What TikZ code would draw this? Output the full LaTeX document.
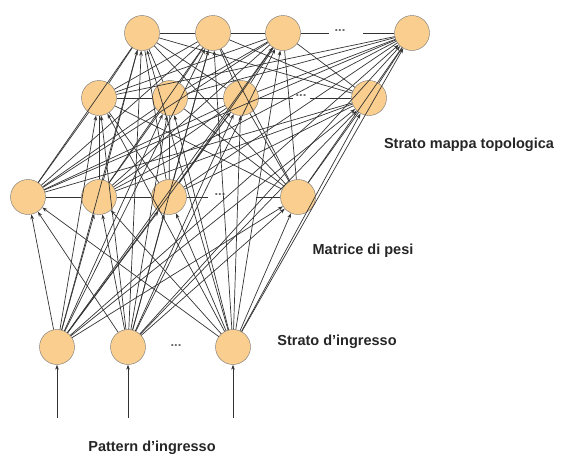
\documentclass[tikz,border=0pt]{standalone}
\usepackage{fontspec}
\setmainfont{Liberation Sans}
\usetikzlibrary{arrows.meta}

\definecolor{neuron}{RGB}{250,206,142}

\begin{document}
\begin{tikzpicture}[x=1pt,y=-1pt,>={Stealth[length=5pt,width=3.6pt]},
  unit/.style={circle,draw=black!55,fill=neuron,minimum size=35pt,inner sep=0pt},
  wire/.style={->,draw=black!80,line width=0.7pt},
  link/.style={draw=black!80,line width=0.7pt},
  more/.style={font=\fontsize{13}{13}\selectfont\bfseries,text=black!60,inner sep=0pt},
  lab/.style={font=\fontsize{14.5}{16}\selectfont\bfseries,text=black!85}]
  \useasboundingbox (0,0) rectangle (561,459);
  % strato d'ingresso
  \node[unit] (i1) at (57,347) {};
  \node[unit] (i2) at (128,347) {};
  \node[unit] (i3) at (233,347) {};
  \node[more] (idots) at (176,346) {...};
  % strato mappa topologica
  \node[unit] (a1) at (28,197) {};
  \node[unit] (a2) at (99,197) {};
  \node[unit] (a3) at (169,197) {};
  \node[unit] (a4) at (298,197) {};
  \node[unit] (b1) at (99,98) {};
  \node[unit] (b2) at (170,98) {};
  \node[unit] (b3) at (241,98) {};
  \node[unit] (b4) at (369,98) {};
  \node[unit] (c1) at (142,33) {};
  \node[unit] (c2) at (213,33) {};
  \node[unit] (c3) at (283,33) {};
  \node[unit] (c4) at (412,33) {};
  \node[more] (adots) at (220,195) {...};
  \node[more] (bdots) at (301,96) {...};
  \node[more] (cdots) at (340,31) {...};
  \coordinate (aL) at (208,197);
  \coordinate (aR) at (256,197);
  \coordinate (bL) at (293,98);
  \coordinate (bR) at (310,98);
  \coordinate (cL) at (329,33);
  \coordinate (cR) at (363,33);
  \draw[link] (a1) -- (a2) -- (a3) -- (aL);
  \draw[link] (aR) -- (a4);
  \draw[link] (b1) -- (b2) -- (b3) -- (bL);
  \draw[link] (bR) -- (b4);
  \draw[link] (c1) -- (c2) -- (c3) -- (cL);
  \draw[link] (cR) -- (c4);
  % matrice di pesi
  \foreach \i in {1,2,3}
    \foreach \m in {a1,a2,a3,a4,b1,b2,b3,b4,c1,c2,c3,c4}
      \draw[wire] (i\i) -- (\m);
  \foreach \s in {1,2,3,4}
    \foreach \m in {b1,b2,b3,b4,c1,c2,c3,c4}
      \draw[link] (a\s) -- (\m);
  \foreach \s in {1,2,3,4}
    \foreach \m in {c1,c2,c3,c4}
      \draw[link] (b\s) -- (\m);
  % pattern d'ingresso
  \coordinate (p1) at (57,418);
  \coordinate (p2) at (128,418);
  \coordinate (p3) at (233,418);
  \draw[wire] (p1) -- (i1);
  \draw[wire] (p2) -- (i2);
  \draw[wire] (p3) -- (i3);
  \node[lab] (tmap) at (469,145) {Strato mappa topologica};
  \node[lab] (tpesi) at (363,251) {Matrice di pesi};
  \node[lab] (tin) at (337,342) {Strato d'ingresso};
  \node[lab] (tpat) at (152,448) {Pattern d'ingresso};
\end{tikzpicture}
\end{document}
